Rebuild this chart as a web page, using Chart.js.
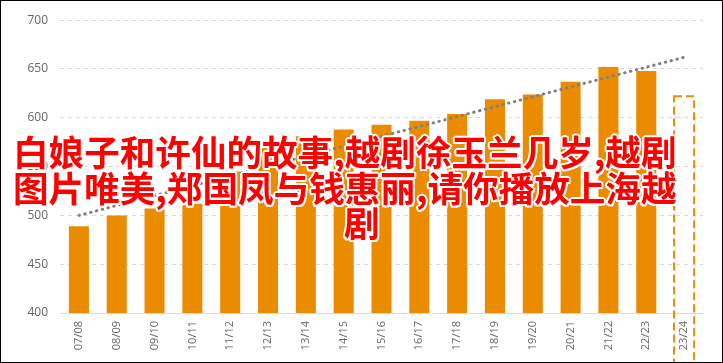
<!DOCTYPE html>
<html>
<head>
<meta charset="utf-8">
<script src="https://cdn.jsdelivr.net/npm/chart.js@4.4.0/dist/chart.umd.min.js"></script>
<style>
  html, body { margin: 0; padding: 0; background: #fff; }
  #wrap { position: relative; width: 723px; height: 363px; box-sizing: border-box; border: 1px solid #000; overflow: hidden; }
  #wrap canvas { position: absolute; left: 0; top: 0; }
  .t {
    position: absolute;
    font-family: "Noto Sans CJK SC", sans-serif;
    font-size: 35.6px;
    line-height: 36px;
    font-weight: bold;
    color: #ff0000;
    white-space: nowrap;
    text-shadow: 2px 0 #fff, -2px 0 #fff, 0 2px #fff, 0 -2px #fff,
                 1.5px 1.5px #fff, -1.5px 1.5px #fff, 1.5px -1.5px #fff, -1.5px -1.5px #fff;
  }
</style>
</head>
<body>
<div id="wrap">
  <canvas id="chart" width="721" height="361"></canvas>
  <div class="t" style="top:132px;left:12px">白娘子和许仙的故事,越剧徐玉兰几岁,越剧</div>
  <div class="t" style="top:168px;left:12px">图片唯美,郑国凤与钱惠丽,请你播放上海越</div>
  <div class="t" style="top:203px;left:343px">剧</div>
</div>
<script>
// 数据
const seasons = ["07/08", "08/09", "09/10", "10/11", "11/12", "12/13", "13/14", "14/15", "15/16",
  "16/17", "17/18", "18/19", "19/20", "20/21", "21/22", "22/23", "23/24"];
const values = [489, 500, 507, 512, 545, 572, 581, 588, 593, 597, 604, 619, 624, 637, 652, 648, 622];
const forecast = [false, false, false, false, false, false, false, false, false,
  false, false, false, false, false, false, false, true];
const trend = [500, null, null, null, null, null, null, null, null,
  null, null, null, null, null, null, null, 662];
const yTicks = [400, 450, 500, 550, 600, 650, 700];

const orange = "#eb8c00";

// 最后一根柱子画成虚线框
const dashedBar = {
  id: "dashedBar",
  afterDatasetsDraw(chart) {
    const meta = chart.getDatasetMeta(0);
    const ctx = chart.ctx;
    meta.data.forEach((bar, i) => {
      if (!forecast[i]) return;
      const p = bar.getProps(["x", "y", "base", "width"], true);
      ctx.save();
      ctx.setLineDash([8, 4]);
      ctx.lineWidth = 2;
      ctx.strokeStyle = orange;
      ctx.strokeRect(p.x - p.width / 2, p.y, p.width, p.base - p.y);
      ctx.restore();
    });
  },
};

new Chart(document.getElementById("chart"), {
  type: "bar",
  data: {
    labels: seasons,
    datasets: [
      {
        data: values,
        backgroundColor: forecast.map((f) => (f ? "transparent" : orange)),
        borderWidth: 0,
        barPercentage: 0.53,
        categoryPercentage: 1,
        order: 1,
      },
      {
        type: "line",
        data: trend,
        spanGaps: true,
        borderColor: "#808080",
        borderWidth: 3,
        borderDash: [0.5, 5.5],
        borderCapStyle: "round",
        pointRadius: 0,
        fill: false,
        order: 0,
      },
    ],
  },
  options: {
    responsive: false,
    animation: false,
    layout: { padding: { top: 18, right: 19, left: 0, bottom: 0 } },
    plugins: { legend: { display: false }, tooltip: { enabled: false } },
    scales: {
      x: {
        grid: { display: false, drawTicks: false },
        border: { color: "#d9d9d9", width: 1 },
        ticks: {
          color: "#666",
          font: { family: "Open Sans", size: 11 },
          minRotation: 90,
          maxRotation: 90,
          padding: 8,
        },
        afterFit(scale) { scale.height = 49; },
      },
      y: {
        min: 400,
        max: 700,
        border: { display: false, dash: [4, 4] },
        grid: { color: "#d9d9d9", drawTicks: false },
        ticks: {
          color: "#666",
          font: { family: "Open Sans", size: 12 },
          padding: 12,
          stepSize: 50,
          callback: (v) => (yTicks.includes(v) ? v : ""),
        },
        afterFit(scale) { scale.width = 59; },
      },
    },
  },
  plugins: [dashedBar],
});
</script>
</body>
</html>
